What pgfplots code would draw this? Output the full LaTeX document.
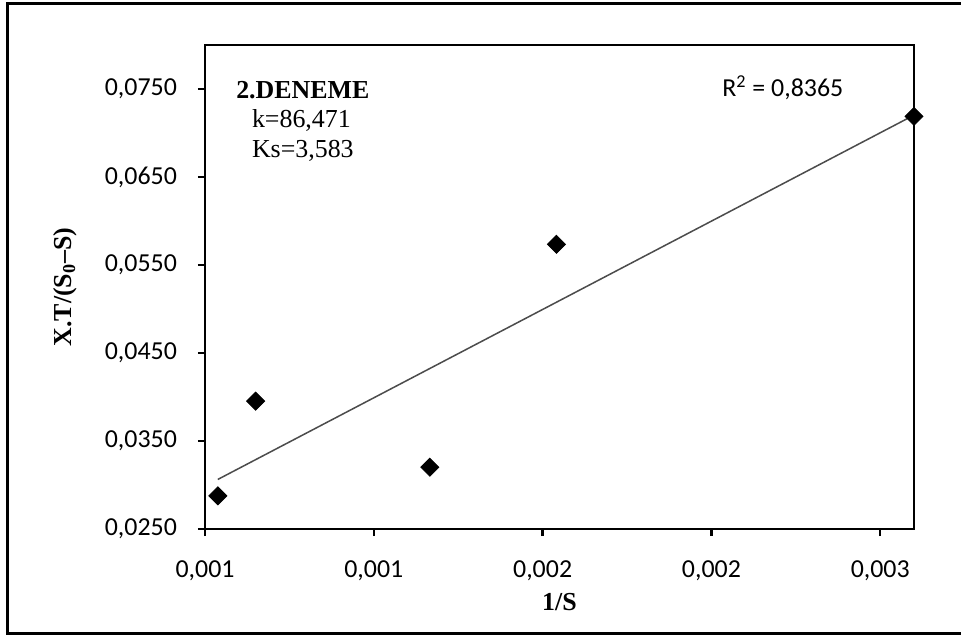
\documentclass[border=0pt]{standalone}
\usepackage{pgfplots}
\pgfplotsset{compat=1.18}
\usepackage{pgfplotstable}
\usepackage{fontspec}
\setmainfont{Liberation Serif}
\newfontfamily\carlito{Carlito}

\pgfplotstableread{
x y
0.000838 0.02877
0.000950 0.03953
0.001466 0.03202
0.001841 0.05735
0.002900 0.07189
}\datatable

\begin{document}
\begin{tikzpicture}
\useasboundingbox (-102.5bp,-54bp) rectangle (378bp,264.5bp);
\clip (-102.5bp,-54bp) rectangle (378bp,264.5bp);
\fill[white] (-102.5bp,-54bp) rectangle (378bp,264.5bp);
\draw[line width=1.6bp, black] (-98.75bp,-52.25bp) rectangle (400bp,262.75bp);
\begin{axis}[
  at={(0,0)}, anchor=south west,
  scale only axis, width=354.5bp, height=242bp,
  xmin=0.0008, xmax=0.0029, ymin=0.025, ymax=0.08,
  xtick={0.0008,0.0013,0.0018,0.0023,0.0028},
  xticklabels={{0,001},{0,001},{0,002},{0,002},{0,003}},
  ytick={0.025,0.035,0.045,0.055,0.065,0.075},
  yticklabel style={xshift=-7bp, /pgf/number format/fixed, /pgf/number format/fixed zerofill, /pgf/number format/precision=4, /pgf/number format/use comma},
  xticklabel style={yshift=-9bp},
  scaled y ticks=false, scaled x ticks=false,
  tick align=outside, major tick length=3.5bp,
  xtick pos=bottom, ytick pos=left,
  axis line style={line width=1.2bp},
  tick style={line width=1.2bp, black},
  ticklabel style={font=\carlito\fontsize{13}{15}\selectfont},
  /pgf/number format/assume math mode=true,
  clip=false,
  xlabel={\textbf{1/S}},
  ylabel={\textbf{X.T/(S\textsubscript{0}–S)}},
  xlabel style={at={(rel axis cs:0.5,-0.151)}, anchor=center, font=\fontsize{13}{15}\selectfont},
  ylabel style={at={(rel axis cs:-0.1975,0.5)}, anchor=center, rotate=0, font=\fontsize{13}{15}\selectfont},
]
\addplot[no markers, line width=0.75bp, black!70] table[x=x, y={create col/linear regression={y=y}}] {\datatable};
\addplot[only marks, mark=square*, mark options={rotate=45, fill=black, draw=black}, mark size=3.2bp] table[x=x, y=y] {\datatable};
\node[font=\bfseries\fontsize{13}{15}\selectfont] at (rel axis cs:0.138,0.907) {2.DENEME};
\node[font=\fontsize{13}{15}\selectfont] at (rel axis cs:0.136,0.843) {k=86,471};
\node[font=\fontsize{13}{15}\selectfont] at (rel axis cs:0.138,0.781) {Ks=3,583};
\node[font=\carlito\fontsize{13}{15}\selectfont] at (rel axis cs:0.815,0.911) {R\textsuperscript{2} = 0,8365};
\end{axis}
\end{tikzpicture}
\end{document}
